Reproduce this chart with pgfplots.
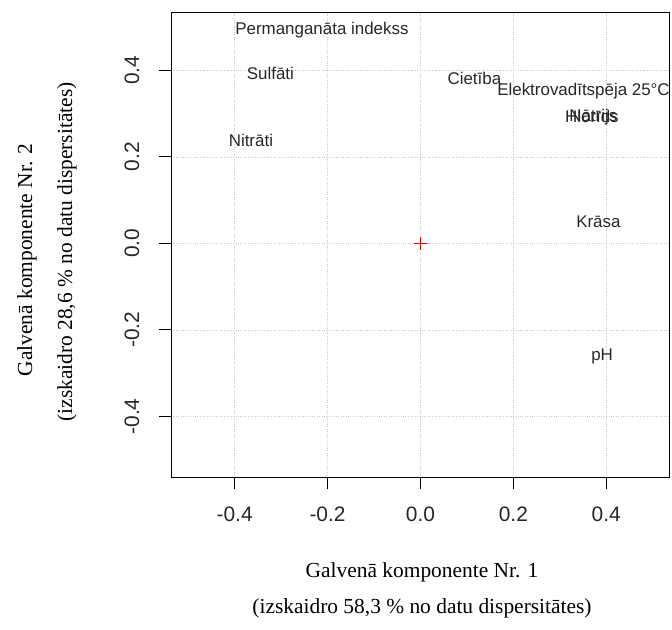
\documentclass[border=0pt]{standalone}
\usepackage{pgfplots}
\pgfplotsset{compat=1.18}
\usepackage{fontspec}
\setmainfont{Liberation Sans}
\newfontfamily\seriffont{Liberation Serif}

\begin{document}
\begin{tikzpicture}
\useasboundingbox (0,0) rectangle (672bp,630bp);
\begin{axis}[
  at={(171bp,153bp)}, anchor=south west,
  width=498bp, height=465bp, scale only axis,
  xmin=-0.537, xmax=0.535, ymin=-0.540, ymax=0.535,
  axis line style={black, line width=0.9bp},
  tick align=outside, major tick length=12bp,
  tick style={black, line width=0.9bp},
  xtick={-0.4,-0.2,0,0.2,0.4},
  ytick={-0.4,-0.2,0,0.2,0.4},
  xticklabels={-0.4,-0.2,0.0,0.2,0.4},
  yticklabels={-0.4,-0.2,0.0,0.2,0.4},
  xtick pos=bottom, ytick pos=left,
  xticklabel style={anchor=center, yshift=-25bp, font=\fontsize{21}{25}\selectfont, text=black!85},
  yticklabel style={anchor=center, xshift=-27bp, rotate=90, font=\fontsize{21}{25}\selectfont, text=black!85},
  /pgf/number format/assume math mode=true,
  grid=major,
  grid style={black!22, dotted, line width=0.7bp},
  clip=false,
]
% variable loadings shown as their names
\addplot[only marks, mark=none,
  nodes near coords, point meta=explicit symbolic,
  nodes near coords style={anchor=center, inner sep=0pt,
    font=\fontsize{17}{20}\selectfont, text=black!85}]
coordinates {
  (-0.212, 0.493) [Permanganāta indekss]
  (-0.323, 0.393) [Sulfāti]
  (-0.365, 0.239) [Nitrāti]
  ( 0.116, 0.382) [Cietība]
  ( 0.351, 0.351) [Elektrovadītspēja 25°C]
  ( 0.369, 0.293) [Hlorīds]
  ( 0.372, 0.293) [Nātrijs]
  ( 0.383, 0.049) [Krāsa]
  ( 0.391,-0.261) [pH]
};
% origin
\addplot[only marks, mark=+, red!85!black, mark size=6.5bp, line width=1.1bp]
coordinates {(0,0)};
\end{axis}
\node[font=\seriffont\fontsize{21.5}{25}\selectfont] at (422bp,58bp) {Galvenā komponente Nr. 1};
\node[font=\seriffont\fontsize{21.5}{25}\selectfont] at (422bp,22bp) {(izskaidro 58,3 \% no datu dispersitātes)};
\node[font=\seriffont\fontsize{21.5}{25}\selectfont, rotate=90] at (27bp,370bp) {Galvenā komponente Nr. 2};
\node[font=\seriffont\fontsize{21.5}{25}\selectfont, rotate=90] at (67bp,378bp) {(izskaidro 28,6 \% no datu dispersitātes)};
\end{tikzpicture}
\end{document}
